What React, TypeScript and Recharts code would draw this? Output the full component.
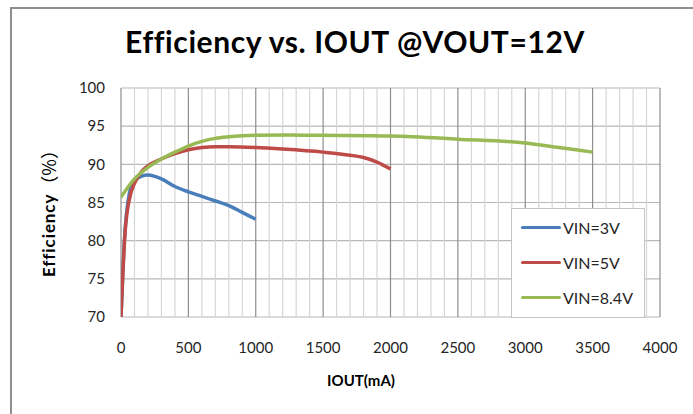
import React from 'react';
import { LineChart, Line, XAxis, YAxis, CartesianGrid, ReferenceLine, Legend } from 'recharts';

// IOUT (mA) / efficiency (%)
const iout3V = [0, 25, 60, 100, 200, 300, 400, 500, 600, 700, 800, 900, 1000];
const eff3V = [70, 80, 86, 87.9, 88.6, 88.1, 87.1, 86.4, 85.8, 85.2, 84.6, 83.7, 82.8];

const iout5V = [0, 30, 70, 100, 150, 200, 300, 400, 500, 600, 700, 800, 1000, 1200, 1500, 1700, 1800, 1900, 2000];
const eff5V = [70, 81, 86, 87.5, 89.0, 89.8, 90.7, 91.4, 91.9, 92.2, 92.3, 92.3, 92.2, 92.0, 91.6, 91.2, 90.9, 90.3, 89.4];

const iout84V = [0, 100, 200, 300, 400, 500, 600, 700, 800, 1000, 1250, 1500, 2000, 2500, 3000, 3250, 3500];
const eff84V = [85.7, 88.1, 89.6, 90.7, 91.6, 92.4, 93.0, 93.4, 93.6, 93.8, 93.85, 93.8, 93.7, 93.3, 92.8, 92.2, 91.6];

const xTicks = [0, 500, 1000, 1500, 2000, 2500, 3000, 3500, 4000];
const yTicks = [70, 75, 80, 85, 90, 95, 100];
const minorX = Array.from({ length: 41 }, (_, i) => i * 100).filter((v) => v % 500 !== 0);

const toPoints = (xs: number[], ys: number[]) => xs.map((x, i) => ({ x, y: ys[i] }));

const series = [
  { name: 'VIN=3V', color: '#4a7ebb', data: toPoints(iout3V, eff3V) },
  { name: 'VIN=5V', color: '#be4b48', data: toPoints(iout5V, eff5V) },
  { name: 'VIN=8.4V', color: '#98b954', data: toPoints(iout84V, eff84V) },
];

const FONT = 'Lato, "Noto Sans CJK SC", sans-serif';

const renderLegend = (props: any) => {
  const { payload } = props;
  return (
    <div
      style={{
        width: 134,
        height: 110,
        background: '#fff',
        border: '1px solid #c4c4c4',
        boxSizing: 'border-box',
        paddingTop: 1,
        fontFamily: FONT,
      }}
    >
      {(payload || []).map((entry: any, i: number) => (
        <div key={`leg-${i}`} style={{ height: 35, display: 'flex', alignItems: 'center' }}>
          <div style={{ width: 40, height: 3.5, marginLeft: 9, background: entry.color, borderRadius: 2 }} />
          <span style={{ marginLeft: 2, fontSize: 16, color: '#262626' }}>{entry.value}</span>
        </div>
      ))}
    </div>
  );
};

const App: React.FC = () => {
  return (
    <div style={{ position: 'absolute', left: 0, top: 0, width: 693, height: 414, background: '#fff', overflow: 'hidden', fontFamily: FONT }}>
      <div
        style={{
          position: 'absolute',
          left: 10,
          top: 7,
          width: 720,
          height: 440,
          borderLeft: '2px solid #8e8e8e',
          borderTop: '2px solid #8e8e8e',
        }}
      />
      <div style={{ position: 'absolute', left: 0, top: 0 }}>
        <LineChart width={693} height={414} margin={{ top: 88, right: 33, bottom: 0, left: 0 }}>
          <CartesianGrid vertical={false} stroke="#b8b8b8" strokeWidth={1.2} />
          {minorX.map((v) => (
            <ReferenceLine key={`mx-${v}`} x={v} stroke="#d6d6d6" strokeWidth={1.2} />
          ))}
          {xTicks.map((v) => (
            <ReferenceLine key={`Mx-${v}`} x={v} stroke="#8e8e8e" strokeWidth={1.2} />
          ))}
          <XAxis
            type="number"
            dataKey="x"
            domain={[0, 4000]}
            ticks={xTicks}
            interval={0}
            height={97}
            axisLine={false}
            tickLine={false}
            tickSize={0}
            tickMargin={25}
            tick={{ fontSize: 15, fill: '#262626', fontFamily: FONT }}
            allowDataOverflow
          />
          <YAxis
            type="number"
            domain={[70, 100]}
            ticks={yTicks}
            interval={0}
            width={121}
            axisLine={false}
            tickLine={false}
            tickSize={0}
            tickMargin={16}
            tick={{ fontSize: 15, fill: '#262626', fontFamily: FONT }}
            allowDataOverflow
          />
          {series.map((s) => (
            <Line
              key={s.name}
              name={s.name}
              data={s.data}
              dataKey="y"
              type="monotone"
              stroke={s.color}
              strokeWidth={3.5}
              dot={false}
              activeDot={false}
              isAnimationActive={false}
            />
          ))}
          <Legend
            layout="vertical"
            align="center"
            verticalAlign="middle"
            content={renderLegend}
            wrapperStyle={{ left: 511, top: 208, width: 134, height: 110 }}
          />
        </LineChart>
      </div>
      <svg width={693} height={414} style={{ position: 'absolute', left: 0, top: 0, pointerEvents: 'none' }}>
        <text x={355} y={53} textAnchor="middle" fontSize={30} fontWeight={700} letterSpacing={0.6} fontFamily={FONT} fill="#000">
          Efficiency vs. IOUT @VOUT=12V
        </text>
        <text x={361} y={386} textAnchor="middle" fontSize={15} fontWeight={700} fontFamily={FONT} fill="#000">
          IOUT(mA)
        </text>
        <text
          x={48}
          y={277}
          textAnchor="start"
          dominantBaseline="central"
          transform="rotate(-90 48 277)"
          fontSize={17}
          fontWeight={700}
          letterSpacing={0.9}
          fontFamily={FONT}
          fill="#000"
        >
          Efficiency
          <tspan fontFamily='"Noto Sans CJK SC"' fontSize={18} fontWeight={400} letterSpacing={0}>
            （%）
          </tspan>
        </text>
      </svg>
    </div>
  );
};

export default App;
